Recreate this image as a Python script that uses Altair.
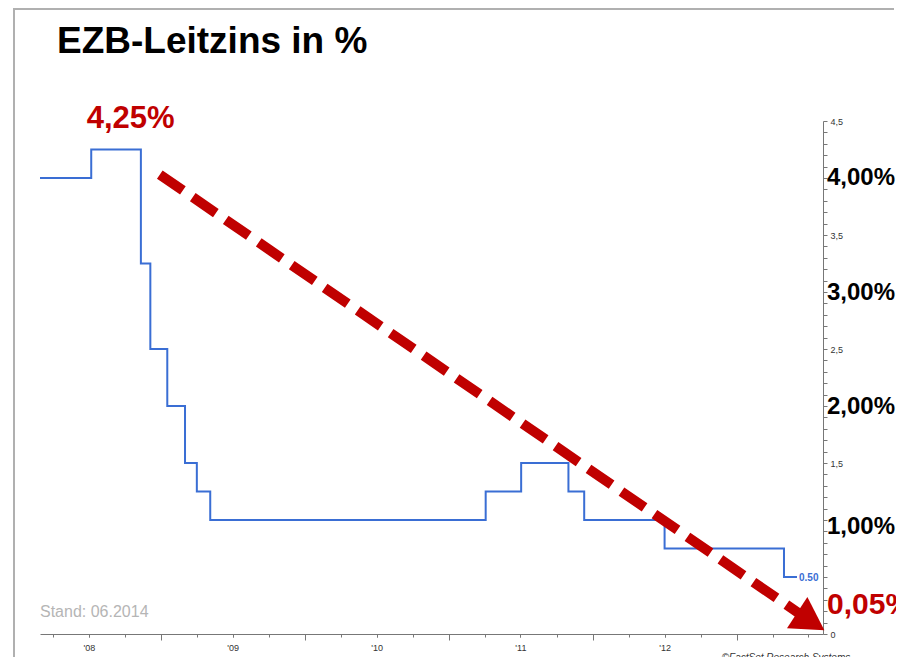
import altair as alt
import pandas as pd

# ---------------- data ----------------
rate_dates = ["2008-02-28", "2008-07-07", "2008-11-10", "2008-12-04", "2009-01-16",
              "2009-03-02", "2009-04-01", "2009-05-05", "2011-04-04", "2011-07-03",
              "2011-10-31", "2011-12-10", "2012-07-01", "2013-04-30", "2013-06-02"]
rate_values = [4.00, 4.25, 3.25, 2.50, 2.00, 1.50, 1.25, 1.00, 1.25, 1.50,
               1.25, 1.00, 0.75, 0.50, 0.50]

big_label_values = [4.0, 2.99, 1.99, 0.94]
big_label_texts = ["4,00%", "3,00%", "2,00%", "1,00%"]

small_label_values = [0, 1.5, 2.5, 3.5, 4.5]

arrow_dates = ["2008-12-28", "2013-07-07"]
arrow_values = [4.03, 0.11]

peak_text, peak_date, peak_value = "4,25%", "2008-10-15", 4.52
low_text, low_value = "0,05%", 0.255
stand_text, stand_value = "Stand: 06.2014", 0.19
copy_text, copy_date, copy_value = "\u00a9FactSet Research Systems", "2012-11-23", -0.21

title_text = "EZB-Leitzins in %"

RED = "#C00000"
BLUE = "#3A6ED4"
GRAY = "#777777"
FONT = "Liberation Sans"

W, H = 783, 513
PAD = {"left": 32, "top": 113, "right": 73, "bottom": 23}

d0 = alt.DateTime(year=2008, month=2, date=28)
d1 = alt.DateTime(year=2013, month=8, date=7)
end_date = "2013-08-07"
start_date = "2008-02-28"


def T(s):
    return s + "T00:00:00"


quarter_ticks = [alt.DateTime(year=y, month=m, date=1)
                 for y in range(2008, 2014) for m in (1, 4, 7, 10)
                 if (y, m) > (2008, 2) and (y, m) < (2013, 8)]
year_ticks = [alt.DateTime(year=y, month=1, date=1) for y in range(2009, 2014)]
label_ticks = [alt.DateTime(year=y, month=7, date=1) for y in range(2008, 2013)]
y_ticks = [round(i * 0.1, 1) for i in range(46)]

xscale = alt.Scale(domain=[d0, d1])
yscale = alt.Scale(domain=[0, 4.5], nice=False, zero=False)


def X(field, axis=None):
    return alt.X(f"{field}:T", scale=xscale, axis=axis)


def Y(field, axis=None):
    return alt.Y(f"{field}:Q", scale=yscale, axis=axis)


axis_quarter = alt.Axis(orient="bottom", values=quarter_ticks, labels=False, tickSize=3,
                        grid=False, domain=True, domainColor=GRAY, tickColor=GRAY, title=None)
axis_year = alt.Axis(orient="bottom", values=year_ticks, labels=False, tickSize=6, grid=False,
                     domain=False, tickColor=GRAY, title=None)
axis_labels = alt.Axis(orient="bottom", values=label_ticks, format="'%y", tickSize=3,
                       grid=False, domain=False, tickColor=GRAY, labelPadding=6,
                       labelFontSize=9, labelFont=FONT, labelColor="#333333",
                       labelFlush=False, title=None)

label_expr = ("indexof(" + str(small_label_values) + ", datum.value) >= 0 ? "
              "(datum.value == 0 ? '0' : replace(format(datum.value, '.1f'), '.', ',')) : ''")
axis_y = alt.Axis(orient="right", values=y_ticks, tickSize=4, grid=False, domain=True,
                  domainColor=GRAY, tickColor=GRAY, labelExpr=label_expr,
                  labelOverlap=False, labelFontSize=9, labelFont=FONT,
                  labelColor="#333333", labelPadding=3, labelBaseline="middle",
                  labelFlush=False, title=None)

df_rate = pd.DataFrame({"date": [T(d) for d in rate_dates], "rate": rate_values})
df_end = df_rate.tail(1)
df_big = pd.DataFrame({"date": [T(end_date)] * len(big_label_values),
                       "v": big_label_values, "t": big_label_texts})
df_arrow = pd.DataFrame({"date": [T(d) for d in arrow_dates], "v": arrow_values})
df_head = df_arrow.tail(1)
df_peak = pd.DataFrame({"date": [T(peak_date)], "v": [peak_value], "t": [peak_text]})
df_low = pd.DataFrame({"date": [T(end_date)], "v": [low_value], "t": [low_text]})
df_stand = pd.DataFrame({"date": [T(start_date)], "v": [stand_value], "t": [stand_text]})
df_copy = pd.DataFrame({"date": [T(copy_date)], "v": [copy_value], "t": [copy_text]})
df_one = pd.DataFrame({"a": [0]})

line = alt.Chart(df_rate).mark_line(interpolate="step-after", color=BLUE, strokeWidth=2).encode(
    x=X("date", axis_quarter), y=Y("rate", axis_y))

end_label = alt.Chart(df_end).mark_text(
    align="left", baseline="middle", dx=2, dy=1, fontSize=10, fontWeight="bold",
    font=FONT, color=BLUE).encode(
    x=X("date", axis_year), y=Y("rate"), text=alt.Text("rate:Q", format=".2f"))

big = alt.Chart(df_big).mark_text(
    align="left", baseline="middle", dx=4, fontSize=24, fontWeight="bold",
    font=FONT, color="black").encode(
    x=X("date", axis_labels), y=Y("v"), text="t:N")

arrow = alt.Chart(df_arrow).mark_line(
    color=RED, strokeWidth=10, strokeDash=[28, 12], strokeCap="butt").encode(
    x=X("date"), y=Y("v"))

head = alt.Chart(df_head).mark_point(
    shape="triangle-right", size=1400, angle=33, filled=True, color=RED,
    opacity=1, strokeWidth=0).encode(x=X("date"), y=Y("v"))

peak = alt.Chart(df_peak).mark_text(
    align="center", baseline="middle", fontSize=31, fontWeight="bold",
    font=FONT, color=RED).encode(x=X("date"), y=Y("v"), text="t:N")

low = alt.Chart(df_low).mark_text(
    align="left", baseline="middle", dx=4, fontSize=30, fontWeight="bold",
    font=FONT, color=RED).encode(x=X("date"), y=Y("v"), text="t:N")

stand = alt.Chart(df_stand).mark_text(
    align="left", baseline="middle", fontSize=16, font=FONT, color="#b5b5b5").encode(
    x=X("date"), y=Y("v"), text="t:N")

copy = alt.Chart(df_copy).mark_text(
    align="left", baseline="middle", fontSize=10, fontStyle="italic", font=FONT,
    color="#333333").encode(x=X("date"), y=Y("v"), text="t:N")

frame_left = alt.Chart(df_one).mark_rule(color="#b0b0b0", strokeWidth=2).encode(
    x=alt.value(-26), y=alt.value(-112), y2=alt.value(H + PAD["bottom"]))
frame_top = alt.Chart(df_one).mark_rule(color="#b0b0b0", strokeWidth=2).encode(
    x=alt.value(-27), x2=alt.value(W + PAD["right"] - 2), y=alt.value(-112))

chart = alt.layer(
    frame_left, frame_top, line, end_label, arrow, head, big, peak, low, stand, copy
).resolve_axis(x="independent", y="independent").properties(
    width=W, height=H, padding=PAD, autosize=alt.AutoSizeParams(type="none"),
    background="white",
    title=alt.TitleParams(text=title_text, anchor="start", frame="group", dx=17,
                          offset=-82, fontSize=37, font=FONT, fontWeight="bold",
                          color="black", baseline="alphabetic"),
).configure_view(stroke=None)

chart.save("out.html", embed_options={"renderer": "svg", "actions": False})
